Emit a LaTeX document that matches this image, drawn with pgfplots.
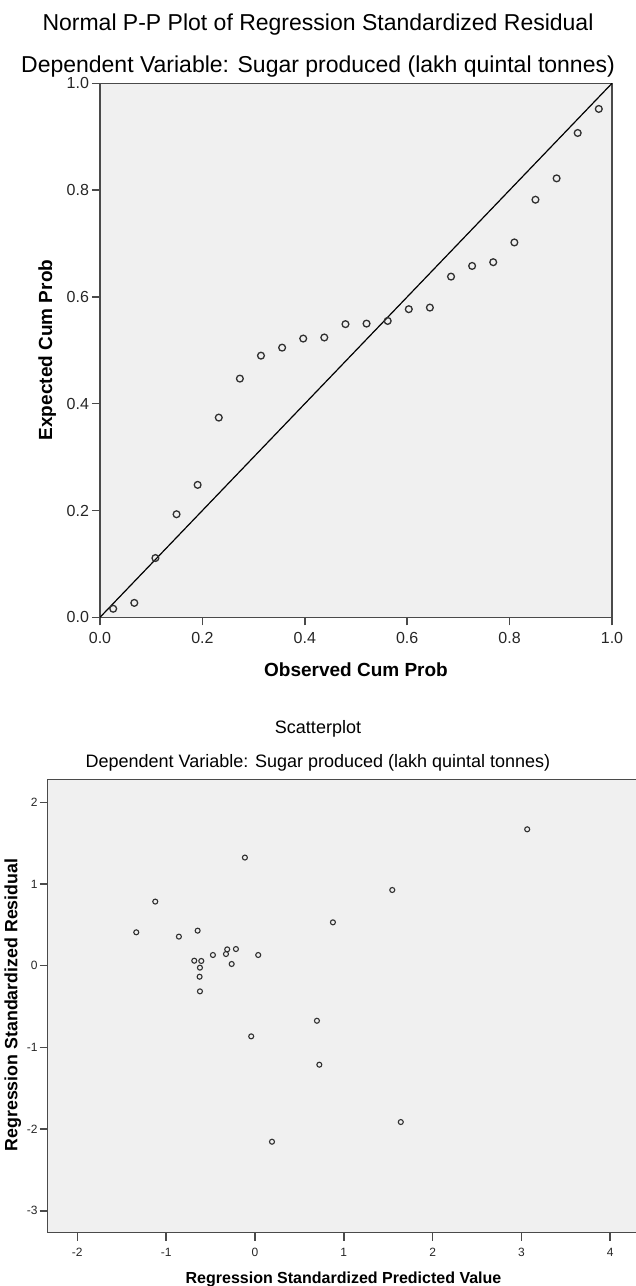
\documentclass[border=0pt]{standalone}
\usepackage{pgfplots}
\pgfplotsset{compat=1.18}
\usepackage{fontspec}
\setmainfont{Liberation Sans}

\definecolor{plotbg}{HTML}{F0F0F0}
\definecolor{axisgray}{HTML}{4A4A4A}
\definecolor{markgray}{HTML}{303030}

% normal P-P plot: observed vs expected cumulative probability
\pgfplotstableread{
obs    exp
0.0258 0.016
0.0670 0.027
0.1082 0.111
0.1495 0.193
0.1907 0.248
0.2320 0.374
0.2732 0.447
0.3144 0.490
0.3557 0.505
0.3969 0.522
0.4381 0.524
0.4794 0.549
0.5206 0.550
0.5619 0.555
0.6031 0.577
0.6443 0.580
0.6856 0.638
0.7268 0.658
0.7680 0.665
0.8093 0.702
0.8505 0.782
0.8918 0.822
0.9330 0.907
0.9742 0.952
}\pptable

% standardized predicted value vs standardized residual
\pgfplotstableread{
pred   resid
-1.336 0.409
-1.122 0.785
-0.856 0.356
-0.645 0.429
-0.683 0.061
-0.604 0.058
-0.619 -0.024
-0.623 -0.135
-0.619 -0.314
-0.473 0.131
-0.326 0.143
-0.312 0.200
-0.214 0.204
-0.262 0.021
0.037  0.131
-0.113 1.324
-0.042 -0.865
0.698  -0.674
3.065  1.670
1.546  0.927
0.878  0.531
0.725  -1.212
0.192  -2.155
1.642  -1.914
}\scattable

\pgfplotsset{
  spss/.style={
    scale only axis,
    axis background/.style={fill=plotbg},
    axis line style={draw=axisgray, line width=0.75pt},
    tick align=outside, tick pos=left,
    major tick length=4pt,
    tick style={draw=axisgray, line width=0.75pt},
    /pgf/number format/assume math mode=true,
  },
}

\begin{document}
\begin{tikzpicture}
\useasboundingbox (0,0) rectangle (318pt,-643pt);

% ---- top chart ----
\node[anchor=base, font=\fontsize{11.5}{13}\selectfont] at (159pt,-15pt)
  {Normal P-P Plot of Regression Standardized Residual};
\node[anchor=base, font=\fontsize{11.5}{13}\selectfont] at (159pt,-36pt)
  {Dependent Variable: Sugar produced (lakh quintal tonnes)};

\begin{axis}[spss,
  at={(50pt,-41.65pt)}, anchor=north west,
  width=256pt, height=267pt,
  xmin=0, xmax=1, ymin=0, ymax=1,
  xtick={0,0.2,0.4,0.6,0.8,1}, ytick={0,0.2,0.4,0.6,0.8,1},
  ticklabel style={font=\fontsize{8}{9}\selectfont, text=black!85},
  yticklabel style={xshift=2pt},
  /pgf/number format/fixed, /pgf/number format/fixed zerofill,
  /pgf/number format/precision=1,
]
\addplot[black, line width=0.6pt] coordinates {(0,0) (1,1)};
\addplot[only marks, mark=o, mark size=1.7pt,
  mark options={draw=markgray, line width=0.65pt}] table[x=obs, y=exp] {\pptable};
\end{axis}

\node[anchor=base, font=\bfseries\fontsize{9.5}{11}\selectfont] at (178pt,-338pt)
  {Observed Cum Prob};
\node[anchor=base, rotate=90, font=\bfseries\fontsize{9.5}{11}\selectfont] at (26pt,-175pt)
  {Expected Cum Prob};

% ---- bottom chart ----
\node[anchor=base, font=\fontsize{9}{11}\selectfont] at (159pt,-366.5pt) {Scatterplot};
\node[anchor=base, font=\fontsize{9}{11}\selectfont] at (159pt,-383.5pt)
  {Dependent Variable: Sugar produced (lakh quintal tonnes)};

% the reference is cut at its right edge, so no right border here
\begin{axis}[spss,
  at={(23.85pt,-389.65pt)}, anchor=north west,
  width=294.15pt, height=226.7pt,
  axis x line*=bottom, axis y line*=left,
  xmin=-2.333, xmax=4.29, ymin=-3.269, ymax=2.282,
  xtick={-2,-1,0,1,2,3,4}, ytick={-3,-2,-1,0,1,2},
  ticklabel style={font=\fontsize{6}{7}\selectfont, text=black!85},
  yticklabel style={xshift=2.5pt},
]
\draw[axisgray, line width=0.75pt] (rel axis cs:0,1) -- (rel axis cs:1,1);
\addplot[only marks, mark=o, mark size=1.25pt,
  mark options={draw=markgray, line width=0.55pt}] table[x=pred, y=resid] {\scattable};
\end{axis}

\node[anchor=base, font=\bfseries\fontsize{8}{9}\selectfont] at (171.75pt,-641.5pt)
  {Regression Standardized Predicted Value};
\node[anchor=base, rotate=90, font=\bfseries\fontsize{8.9}{10}\selectfont] at (8.65pt,-502.5pt)
  {Regression Standardized Residual};
\end{tikzpicture}
\end{document}
